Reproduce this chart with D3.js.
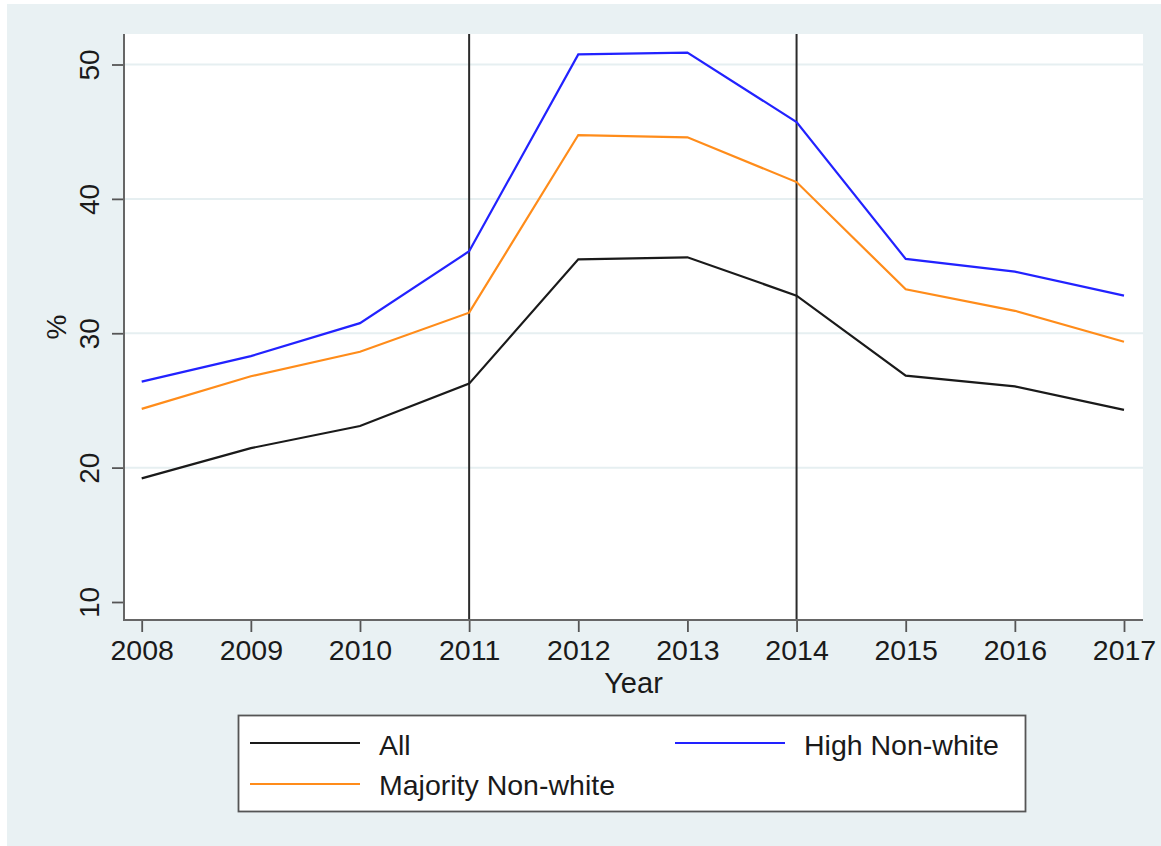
<!DOCTYPE html>
<html>
<head>
<meta charset="utf-8">
<script src="https://cdn.jsdelivr.net/npm/d3@7"></script>
<style>
  html, body { margin: 0; padding: 0; background: #ffffff; }
  svg { display: block; font-family: "Liberation Sans", Arial, Helvetica, sans-serif; }
</style>
</head>
<body>
<svg id="chart" width="1161" height="846"></svg>
<script>
// Share of records by year, three groups (%)
const years = [2008, 2009, 2010, 2011, 2012, 2013, 2014, 2015, 2016, 2017];
const allValues = [19.2, 21.45, 23.1, 26.25, 35.5, 35.65, 32.8, 26.85, 26.05, 24.3];
const highNonWhite = [26.4, 28.3, 30.75, 36.1, 50.75, 50.88, 45.72, 35.53, 34.58, 32.8];
const majorityNonWhite = [24.37, 26.8, 28.62, 31.53, 44.75, 44.58, 41.25, 33.27, 31.67, 29.37];
const yTicks = [10, 20, 30, 40, 50];
const gridTicks = [20, 30, 40, 50];
const markerYears = [2011, 2014];

const seriesList = [
  { name: "All", values: allValues, color: "#1a1a1a" },
  { name: "High Non-white", values: highNonWhite, color: "#2222ff" },
  { name: "Majority Non-white", values: majorityNonWhite, color: "#ff8c1a" }
];

const svg = d3.select("#chart");

// graph region background
svg.append("rect")
  .attr("x", 7).attr("y", 4).attr("width", 1154).attr("height", 842)
  .attr("fill", "#e9f1f3");

const plot = { left: 124, right: 1143, top: 34, bottom: 620 };

const x = d3.scaleLinear().domain([2008, 2017]).range([141.7, 1124]);
const y = d3.scaleLinear().domain([10, 50]).range([602, 64.5]);

// plot region
svg.append("rect")
  .attr("x", plot.left).attr("y", plot.top)
  .attr("width", plot.right - plot.left).attr("height", plot.bottom - plot.top)
  .attr("fill", "#ffffff");

// horizontal grid
svg.append("g").selectAll("line").data(gridTicks).join("line")
  .attr("x1", plot.left).attr("x2", plot.right)
  .attr("y1", d => y(d)).attr("y2", d => y(d))
  .attr("stroke", "#e6eff1").attr("stroke-width", 2);

// reference lines
svg.append("g").selectAll("line").data(markerYears).join("line")
  .attr("x1", d => x(d)).attr("x2", d => x(d))
  .attr("y1", plot.top).attr("y2", plot.bottom)
  .attr("stroke", "#2b2b2b").attr("stroke-width", 2);

// series lines
const line = d3.line()
  .x((d, i) => x(years[i]))
  .y(d => y(d));

svg.append("g").selectAll("path").data(seriesList).join("path")
  .attr("d", d => line(d.values))
  .attr("fill", "none")
  .attr("stroke", d => d.color)
  .attr("stroke-width", 2.2)
  .attr("stroke-linejoin", "miter");

// y axis
const yAxis = d3.axisLeft(y).tickValues(yTicks).tickSize(12).tickPadding(0).tickFormat(d3.format("d"));
const gy = svg.append("g").attr("transform", `translate(${plot.left},0)`).call(yAxis);
gy.select(".domain").remove();
gy.selectAll(".tick line").attr("stroke", "#555").attr("stroke-width", 1.8);
gy.selectAll(".tick text")
  .attr("x", null).attr("dy", null)
  .attr("transform", "translate(-25,0) rotate(-90)")
  .attr("text-anchor", "middle")
  .attr("fill", "#1a1a1a")
  .style("font-size", "28px");
svg.append("line")
  .attr("x1", plot.left).attr("x2", plot.left)
  .attr("y1", plot.top).attr("y2", plot.bottom + 1)
  .attr("stroke", "#666").attr("stroke-width", 2);

// x axis
const xAxis = d3.axisBottom(x).tickValues(years).tickSize(12).tickPadding(6).tickFormat(d3.format("d"));
const gx = svg.append("g").attr("transform", `translate(0,${plot.bottom})`).call(xAxis);
gx.select(".domain").remove();
gx.selectAll(".tick line").attr("stroke", "#555").attr("stroke-width", 1.8);
gx.selectAll(".tick text")
  .attr("y", 40).attr("dy", null)
  .attr("fill", "#1a1a1a")
  .style("font-size", "28.5px");
svg.append("line")
  .attr("x1", plot.left - 1).attr("x2", plot.right)
  .attr("y1", plot.bottom).attr("y2", plot.bottom)
  .attr("stroke", "#666").attr("stroke-width", 2);

// axis titles
svg.append("text")
  .attr("x", (plot.left + plot.right) / 2).attr("y", 693)
  .attr("text-anchor", "middle").attr("fill", "#1a1a1a")
  .style("font-size", "29px").text("Year");
svg.append("text")
  .attr("transform", "translate(66,327) rotate(-90)")
  .attr("text-anchor", "middle").attr("fill", "#1a1a1a")
  .style("font-size", "28px").text("%");

// legend
const legend = svg.append("g");
legend.append("rect")
  .attr("x", 238.5).attr("y", 715.5).attr("width", 787).attr("height", 96)
  .attr("fill", "#ffffff").attr("stroke", "#555").attr("stroke-width", 1.8);

const legendItems = [
  { s: seriesList[0], lx: 250, ly: 743, tx: 379, ty: 755 },
  { s: seriesList[1], lx: 675, ly: 743, tx: 804, ty: 755 },
  { s: seriesList[2], lx: 250, ly: 784, tx: 379, ty: 795 }
];
legendItems.forEach(it => {
  legend.append("line")
    .attr("x1", it.lx).attr("x2", it.lx + 110)
    .attr("y1", it.ly).attr("y2", it.ly)
    .attr("stroke", it.s.color).attr("stroke-width", 2.2);
  legend.append("text")
    .attr("x", it.tx).attr("y", it.ty)
    .attr("fill", "#1a1a1a")
    .style("font-size", "28.5px")
    .text(it.s.name);
});
</script>
</body>
</html>
